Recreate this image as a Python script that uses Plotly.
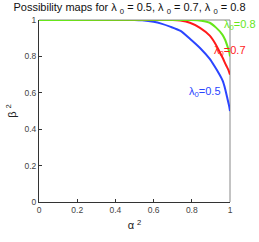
import plotly.graph_objects as go

# Data (alpha^2, beta^2)
alpha_blue = [0.0, 0.50, 0.54, 0.60, 0.64, 0.69, 0.741, 0.79, 0.843, 0.894, 0.92, 0.945, 0.962, 0.975, 0.985, 0.995, 1.0]
beta_blue = [1.0, 1.0, 0.998, 0.99, 0.98, 0.962, 0.94, 0.897, 0.846, 0.786, 0.744, 0.70, 0.665, 0.62, 0.575, 0.53, 0.50]

alpha_red = [0.0, 0.70, 0.74, 0.79, 0.843, 0.894, 0.927, 0.96, 0.98, 0.992, 1.0]
beta_red = [1.0, 1.0, 0.997, 0.985, 0.957, 0.914, 0.863, 0.795, 0.75, 0.725, 0.70]

alpha_green = [0.0, 0.80, 0.85, 0.894, 0.927, 0.96, 0.975, 0.99, 0.997, 1.0]
beta_green = [1.0, 1.0, 0.996, 0.985, 0.958, 0.92, 0.89, 0.845, 0.82, 0.80]

labels = ["λ<sub>0</sub>=0.5", "λ<sub>0</sub>=0.7", "λ<sub>0</sub>=0.8"]
label_x = [0.776, 0.908, 0.959]
label_y = [0.605, 0.832, 0.974]
colors = ["#2b45ff", "#ff1a1a", "#66e61a"]

tick_vals = [0, 0.2, 0.4, 0.6, 0.8, 1]
tick_text = ["0", "0.2", "0.4", "0.6", "0.8", "1"]

FONT = "Liberation Sans, Arial, sans-serif"

fig = go.Figure()
for xs, ys, c in [(alpha_blue, beta_blue, colors[0]), (alpha_red, beta_red, colors[1]), (alpha_green, beta_green, colors[2])]:
    fig.add_trace(go.Scatter(x=xs, y=ys, mode="lines", line=dict(color=c, width=2, shape="spline", smoothing=0.5),
                             showlegend=False, cliponaxis=False))

for t, x, y, c in zip(labels, label_x, label_y, colors):
    fig.add_annotation(x=x, y=y, text=t, showarrow=False, xanchor="left", yanchor="middle",
                       font=dict(color=c, size=11, family=FONT))

fig.add_shape(type="line", xref="paper", yref="paper", x0=0, x1=1, y0=1, y1=1, line=dict(color="#888", width=1), layer="below")
fig.add_shape(type="line", xref="paper", yref="paper", x0=1, x1=1, y0=0, y1=1, line=dict(color="#888", width=1), layer="below")

axis_common = dict(range=[0, 1], showgrid=False, zeroline=False, showline=True, linecolor="#333", linewidth=1,
                   ticks="inside", ticklen=3, tickcolor="#333", tickvals=tick_vals, ticktext=tick_text,
                   tickfont=dict(size=8.5, color="#444", family=FONT))

fig.update_layout(
    width=259, height=242,
    margin=dict(l=35, r=29, t=20, b=27),
    paper_bgcolor="white", plot_bgcolor="white",
    title=dict(text="Possibility maps for λ <sub>0</sub> = 0.5, λ <sub>0</sub> = 0.7, λ <sub>0</sub> = 0.8",
               x=0.5, xanchor="center", y=0.985, yanchor="top",
               font=dict(size=11, color="#111", family=FONT)),
    xaxis=dict(**axis_common, title=dict(text="α <sup>2</sup>", standoff=7, font=dict(size=11, color="#222", family=FONT))),
    yaxis=dict(**axis_common, title=dict(text="β <sup>2</sup>", standoff=5, font=dict(size=11, color="#222", family=FONT))),
)

fig.write_html("out.html", post_script="document.body.style.margin='0';", config={"displayModeBar": False})
